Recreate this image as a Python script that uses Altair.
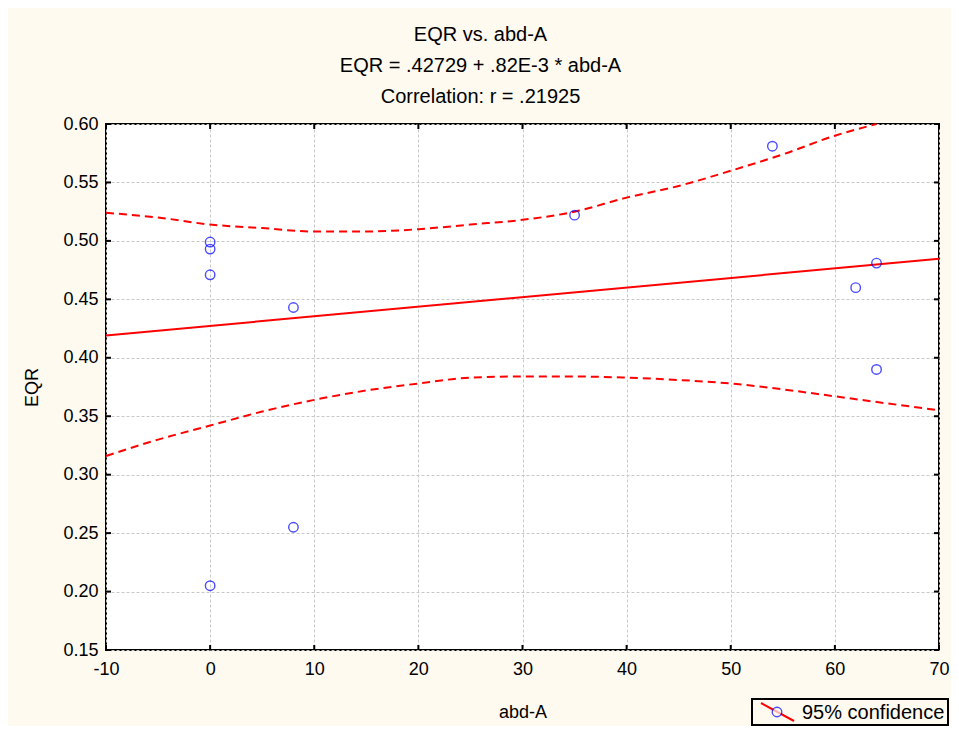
import altair as alt
import pandas as pd

# --- data ---
pt_x = [0, 0, 0, 0, 8, 8, 35, 54, 62, 64, 64]
pt_y = [0.499, 0.493, 0.471, 0.205, 0.443, 0.255, 0.522, 0.581, 0.460, 0.481, 0.390]

fit_x = [-10, 70]
fit_y = [0.4191, 0.4847]

up_x = [-10, -5, 0, 5, 10, 15, 20, 25, 30, 35, 40, 45, 50, 55, 60, 64]
up_y = [0.524, 0.520, 0.514, 0.511, 0.508, 0.508, 0.510, 0.514, 0.518, 0.525,
        0.537, 0.547, 0.560, 0.574, 0.590, 0.600]

lo_x = [-10, -5, 0, 5, 10, 15, 20, 25, 30, 35, 40, 45, 50, 55, 60, 65, 70]
lo_y = [0.316, 0.330, 0.342, 0.354, 0.364, 0.372, 0.378, 0.383, 0.384, 0.384,
        0.383, 0.381, 0.378, 0.373, 0.367, 0.361, 0.355]

x_ticks = [-10, 0, 10, 20, 30, 40, 50, 60, 70]
y_ticks = [0.15, 0.20, 0.25, 0.30, 0.35, 0.40, 0.45, 0.50, 0.55, 0.60]

title_lines = ["EQR vs. abd-A", "EQR = .42729 + .82E-3 * abd-A", "Correlation: r = .21925"]
legend_label = "95% confidence"

FONT = "Liberation Sans"
W, H = 833, 526

pts = pd.DataFrame({"x": pt_x, "y": pt_y})
fit = pd.DataFrame({"x": fit_x, "y": fit_y})
up = pd.DataFrame({"x": up_x, "y": up_y})
lo = pd.DataFrame({"x": lo_x, "y": lo_y})
xt = pd.DataFrame({"x": x_ticks})
yt = pd.DataFrame({"y": y_ticks})
one = pd.DataFrame({"k": [0]})

xscale = alt.Scale(domain=[-10, 70], nice=False, zero=False)
yscale = alt.Scale(domain=[0.15, 0.60], nice=False, zero=False)

xaxis = alt.Axis(values=x_ticks, title="abd-A", labelExpr="'' + datum.value",
                 labelPadding=10, titlePadding=25, grid=True, labelFlush=False,
                 labelOverlap=False)
yaxis = alt.Axis(values=y_ticks, title="EQR", format=".2f", labelPadding=8,
                 titlePadding=21, grid=True, labelFlush=False, labelOverlap=False)


def X():
    return alt.X("x:Q", scale=xscale, axis=xaxis)


def Y():
    return alt.Y("y:Q", scale=yscale, axis=yaxis)


base_fit = alt.Chart(fit).mark_line(color="#FF0000", strokeWidth=2).encode(x=X(), y=Y())

upper = alt.Chart(up).mark_line(color="#FF0000", strokeWidth=2, strokeDash=[8, 5],
                                interpolate="monotone").encode(x=X(), y=Y())
lower = alt.Chart(lo).mark_line(color="#FF0000", strokeWidth=2, strokeDash=[8, 5],
                                interpolate="monotone").encode(x=X(), y=Y())

points = alt.Chart(pts).mark_point(shape="circle", filled=False, color="#0000FF",
                                   size=90, strokeWidth=1.4).encode(x=X(), y=Y())

# inward tick marks on all four sides
tick_b = alt.Chart(xt).mark_rule(color="black", strokeWidth=2).encode(
    x=X(), y=alt.value(H), y2=alt.value(H - 5))
tick_t = alt.Chart(xt).mark_rule(color="black", strokeWidth=2).encode(
    x=X(), y=alt.value(0), y2=alt.value(5))
tick_l = alt.Chart(yt).mark_rule(color="black", strokeWidth=2).encode(
    y=Y(), x=alt.value(0), x2=alt.value(5))
tick_r = alt.Chart(yt).mark_rule(color="black", strokeWidth=2).encode(
    y=Y(), x=alt.value(W), x2=alt.value(W - 5))

# legend box (outside plot area, bottom right)
lx0, lx1, ly0, ly1 = 646, 842, 575, 601
leg_box = alt.Chart(one).mark_rect(fill="#FEFAF0", stroke="black", strokeWidth=2).encode(
    x=alt.value(lx0), x2=alt.value(lx1), y=alt.value(ly0), y2=alt.value(ly1))
leg_line = alt.Chart(one).mark_rule(color="#FF0000", strokeWidth=2).encode(
    x=alt.value(lx0 + 9), x2=alt.value(lx0 + 42), y=alt.value(ly0 + 4), y2=alt.value(ly1 - 4))
leg_pt = alt.Chart(one).mark_point(shape="circle", filled=False, color="#0000FF",
                                   size=90, strokeWidth=1.4, fill="#FEFAF0").encode(
    x=alt.value(lx0 + 25), y=alt.value((ly0 + ly1) / 2))
leg_txt = alt.Chart(one).mark_text(text=legend_label, font=FONT, fontSize=20, align="left",
                                   baseline="middle", color="black").encode(
    x=alt.value(lx0 + 50), y=alt.value((ly0 + ly1) / 2 + 1))

chart = alt.layer(
    base_fit, upper, lower, tick_b, tick_t, tick_l, tick_r, points,
    leg_box, leg_line, leg_pt, leg_txt
).properties(
    width=W, height=H,
    autosize=alt.AutoSizeParams(type="none"),
    padding={"left": 98, "top": 116, "right": 12, "bottom": 76},
    background="#FEFAF0",
    title=alt.TitleParams(text=title_lines, font=FONT, fontSize=20, fontWeight="normal",
                          color="black", lineHeight=31, offset=8, dx=-42, anchor="middle"),
).configure_view(
    fill="white", stroke="black", strokeWidth=2
).configure_axis(
    labelFont=FONT, labelFontSize=18, labelColor="black",
    titleFont=FONT, titleFontSize=18, titleColor="black", titleFontWeight="normal",
    domain=False, ticks=False,
    gridColor="#C8C8C8", gridDash=[3, 2], gridWidth=1,
)

chart.save("out.html", embed_options={"renderer": "svg", "actions": False})
